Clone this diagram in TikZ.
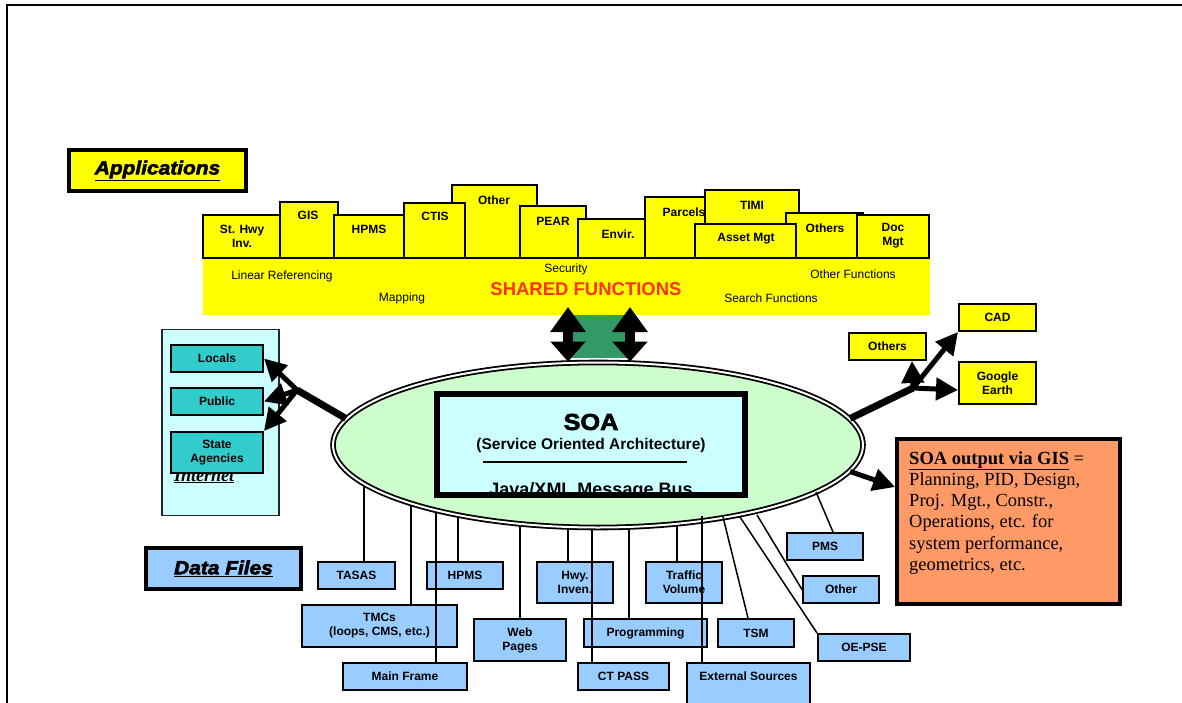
\documentclass[tikz,border=0pt]{standalone}
\usepackage{fontspec}
\setmainfont{Liberation Serif}
\setsansfont{Liberation Sans}
\newfontfamily\heavyfont[FakeStretch=1.1,FakeBold=3]{Liberation Sans}
\usetikzlibrary{arrows.meta, shapes.geometric, calc}

\definecolor{appyellow}{HTML}{FFFF00}
\definecolor{netcyan}{HTML}{CCFFFF}
\definecolor{netteal}{HTML}{33CCCC}
\definecolor{busgreen}{HTML}{CCFFCC}
\definecolor{datablue}{HTML}{99CCFF}
\definecolor{outorange}{HTML}{FF9966}
\definecolor{linkgreen}{HTML}{339966}
\definecolor{sharedred}{HTML}{FF3300}

\begin{document}
\begin{tikzpicture}[x=1pt, y=-1pt,
  every node/.style={font=\sffamily\bfseries\fontsize{12}{14}\selectfont, align=center, inner sep=0pt},
  appbox/.style={draw, line width=2pt, fill=appyellow},
  netbox/.style={draw, line width=2pt, fill=netteal, minimum width=92pt, minimum height=27pt},
  databox/.style={draw, line width=2pt, fill=datablue},
  titlebox/.style={draw, line width=4pt, minimum height=41pt,
                   font=\heavyfont\bfseries\itshape\fontsize{19}{22}\selectfont},
  fnlbl/.style={font=\sffamily\fontsize{12}{14}\selectfont},
  link/.style={line width=1.5pt},
  trunk/.style={line width=7pt},
  fat/.style={line width=5pt, -{Triangle[length=22pt,width=22pt]}},
  dbl/.style={line width=10pt, {Triangle[length=25pt,width=34pt]}-{Triangle[length=20pt,width=34pt]}},
]
\useasboundingbox (0,0) rectangle (1182,703);
\draw[line width=2pt] (7,703) -- (7,5) -- (1182,5);

\node[titlebox, fill=appyellow, minimum width=177pt] (apps) at (157.5,170.5) {\underline{Applications}};

% shared functions strip and the applications on it (back to front)
\fill[appyellow] (203,258) rectangle (930,315);
\foreach \xa/\ya/\xb/\lx/\ly/\nm/\txt in {
    203/215/281/242/236/sthwy/{St. Hwy\\Inv.},
    280/202/338/308/215/gis/GIS,
    334/215/404/369/229/hpmsapp/HPMS,
    452/185/537/494/200/otherapp/Other,
    404/203/465/435/216/ctis/CTIS,
    520/206/586/553/221/pear/PEAR,
    578/219/657/618/234/envir/Envir.,
    645/197/722/684/212/parcels/Parcels,
    705/190/799/752/205/timi/TIMI,
    786/213/863/825/228/othersapp/Others,
    695/224/796/746/239/assetmgt/Asset Mgt,
    857/215/929/893/236/docmgt/{Doc\\Mgt}}{
  \draw[appbox] (\xa,\ya) rectangle (\xb,258);
  \node (\nm) at (\lx,\ly) {\txt};
}
\node[fnlbl] (linref) at (282,276) {Linear Referencing};
\node[fnlbl] (mapping) at (402,298) {Mapping};
\node[fnlbl] (security) at (566,269) {Security};
\node[fnlbl] (searchfn) at (771,298) {Search Functions};
\node[fnlbl] (otherfn) at (853,274) {Other Functions};
\node[font=\sffamily\bfseries\fontsize{18.5}{20}\selectfont, text=sharedred] (shared) at (586,289) {SHARED FUNCTIONS};

% internet side
\node[draw=black!85, line width=1.5pt, fill=netcyan, minimum width=117pt, minimum height=186pt] (net) at (220.5,422.5) {};
\node[font=\rmfamily\bfseries\itshape\fontsize{18}{20}\selectfont, anchor=base west] (nettxt) at (174,481) {\underline{Internet}};
\node[netbox] (locals) at (217,358.5) {Locals};
\node[netbox] (public) at (217,401.5) {Public};
\node[netbox, minimum height=41pt] (state) at (217,452.5) {State\\Agencies};

% data files
\node[titlebox, fill=datablue, minimum width=155pt] (datafiles) at (223.5,568.5) {\underline{Data Files}};
\foreach \nm/\cx/\cy/\w/\h/\txt in {
    tasas/356.5/575.5/77/27/TASAS,
    hpms/465/575.5/76/27/HPMS,
    hwyinven/575/582.5/76/41/{Hwy.\\Inven.},
    traffic/684/582.5/76/41/{Traffic\\Volume},
    pms/825/546.5/76/27/PMS,
    otherdata/841/589.5/76/27/Other,
    tmcs/379.5/626/155/42/{TMCs\\(loops, CMS, etc.)},
    webpages/520/640/92/42/{Web\\Pages},
    programming/645.5/633/123/28/Programming,
    tsm/756/633/76/28/TSM,
    oepse/864/647.5/92/27/OE-PSE,
    mainframe/405/676.5/124/27/Main Frame,
    ctpass/623.5/676.5/91/27/CT PASS,
    extsrc/748.5/692/123/58/{}}{
  \node[databox, minimum width=\w pt, minimum height=\h pt] (\nm) at (\cx,\cy) {\txt};
}
\node (extlbl) at (748.5,676) {External Sources};

% taps under the bus
\coordinate (hub) at (598,445);
\foreach \lx/\dst in {364/tasas, 411/tmcs, 436/mainframe, 458/hpms, 520/webpages,
                      568/hwyinven, 592/ctpass, 629/programming, 677/traffic}
  \draw[link] (\lx,0 |- \dst.north) -- (\lx,0 |- hub);

\fill[linkgreen] (568,315) rectangle (630,358);

\node[ellipse, draw, line width=1.8pt, double, double distance=2pt, fill=busgreen,
      minimum width=530pt, minimum height=165pt] (bus) at (hub) {};

\node[draw, line width=4pt, fill=netcyan, minimum width=306pt, minimum height=99pt] (soa) at (591,444.5) {};
\node[font=\heavyfont\bfseries\fontsize{23}{26}\selectfont] (soatitle) at (591,422) {SOA};
\node[font=\sffamily\bfseries\fontsize{15.5}{18}\selectfont] (soaname) at (591,445) {(Service Oriented Architecture)};
\draw[line width=1.2pt] (483,462) -- (687,462);
\begin{scope}
  \clip (soa.north west) rectangle (soa.south east);
  \node[font=\sffamily\bfseries\fontsize{18}{20}\selectfont, anchor=base] (msgbus) at (591,495) {Java/XML Message Bus};
\end{scope}
\draw[line width=4pt] (soa.north west) rectangle (soa.south east);

\coordinate (tapext) at (702,516);
\coordinate (taptsm) at (723,517);
\coordinate (tapoe) at (740,517);
\coordinate (tapother) at (757,515);
\coordinate (tappms) at (816,492);
\draw[link] (tapext) -- (702,0 |- extsrc.north);
\draw[link] (taptsm) -- ([xshift=-8pt]tsm.north);
\draw[link] (tapoe) -- (oepse.north west);
\draw[link] (tapother) -- (otherdata.west);
\draw[link] (tappms) -- ([xshift=8pt]pms.north);

% link to shared functions
\coordinate (sfa) at (568,307);
\coordinate (sfb) at (630,307);
\draw[dbl] (sfa) -- (568,0 |- bus.north);
\draw[dbl] (sfb) -- (630,0 |- bus.north);

% internet arrows
\coordinate (netjoin) at (297,390);
\draw[trunk] (bus.174) -- (netjoin);
\draw[fat] (netjoin) -- (locals.east);
\draw[fat] (netjoin) -- (public.east);
\draw[fat] (netjoin) -- (state.north east);

% GIS outputs
\node[appbox, minimum width=77pt, minimum height=27pt] (othersgis) at (887.5,346.5) {Others};
\node[appbox, minimum width=77pt, minimum height=27pt] (cad) at (997.5,317.5) {CAD};
\node[appbox, minimum width=77pt, minimum height=42pt] (gearth) at (997.5,383) {Google\\Earth};
\coordinate (gisjoin) at (913,388);
\draw[trunk] (bus.6) -- (gisjoin);
\draw[fat] (gisjoin) -- ([xshift=-15pt]othersgis.south east);
\draw[fat] (gisjoin) -- (cad.south west);
\draw[fat] (gisjoin) -- ([yshift=-7pt]gearth.west);

\node[draw, line width=4pt, fill=outorange, minimum width=223pt, minimum height=165pt] (gisout) at (1008.5,521.5) {};
\node[font=\rmfamily\fontsize{18.5}{21.3}\selectfont, align=left, anchor=north west] (gisouttxt) at (909,451)
  {\underline{\textbf{SOA output via GIS}} =\\Planning, PID, Design,\\Proj. Mgt., Constr.,\\Operations, etc. for\\system performance,\\geometrics, etc.};
\draw[fat] (bus.-6) -- ([yshift=-50pt]gisout.north west);
\end{tikzpicture}
\end{document}
